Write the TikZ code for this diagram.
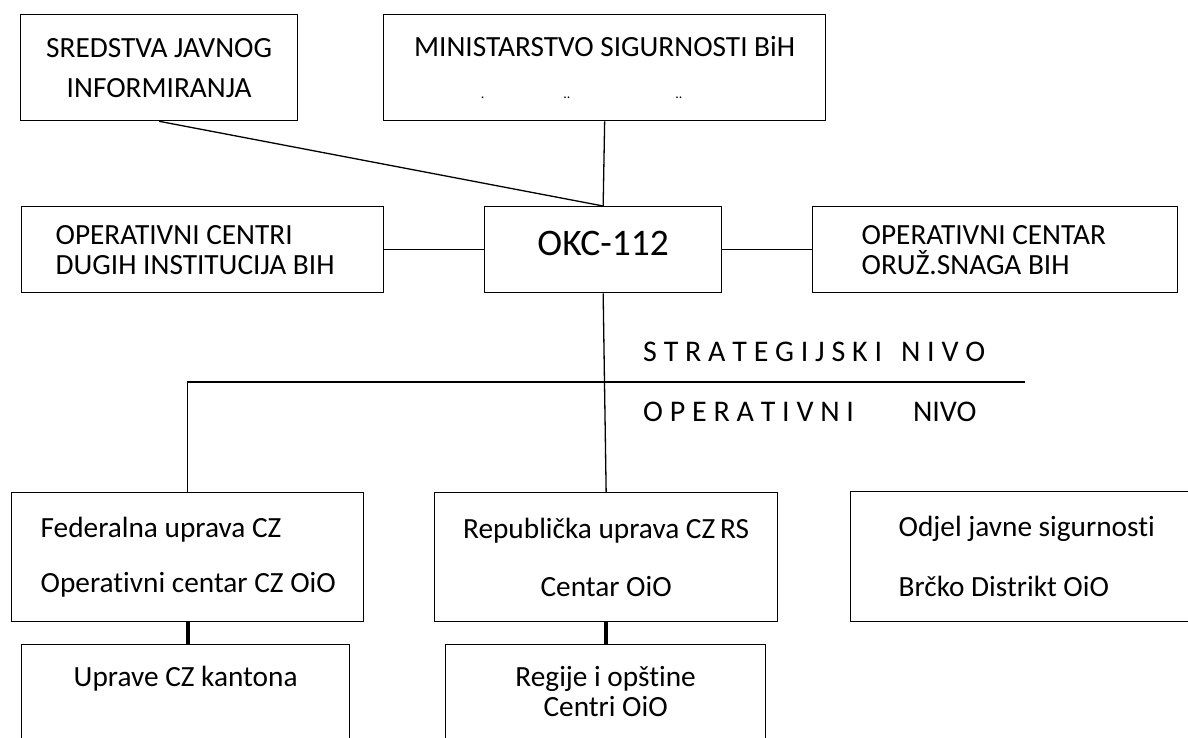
\documentclass[tikz,border=0pt]{standalone}
\usepackage{fontspec}
\setmainfont{Carlito}[Ligatures=NoCommon]

\tikzset{
  orgbox/.style={draw, line width=1.3pt, anchor=north west, inner sep=0pt,
    font=\fontsize{29.3}{30}\selectfont},
  conn/.style={line width=1.3pt},
  thickconn/.style={line width=4pt},
  nivo/.style={anchor=west, inner sep=0pt, font=\fontsize{30}{30}\selectfont},
}

\begin{document}
\begin{tikzpicture}[x=1pt,y=-1pt]
\useasboundingbox (0,0) rectangle (1188,738);
\clip (0,0) rectangle (1188,738);
% strateski nivo
\node[orgbox, minimum width=277pt, minimum height=106pt, align=center] (sredstva) at (20,14) {SREDSTVA JAVNOG\\[10pt]INFORMIRANJA};
\node[orgbox, minimum width=442pt, minimum height=106pt, align=center] (ministarstvo) at (383,14) {MINISTARSTVO SIGURNOSTI BiH\\[12.5pt]{\fontsize{14}{14}\selectfont .\hspace{79pt}..\hspace{105pt}..\hspace*{46pt}}};
\node[orgbox, minimum width=362pt, minimum height=86pt, text width=294pt, inner xsep=34pt, align=flush left] (drugi) at (21,206) {\mbox{OPERATIVNI CENTRI}\\\mbox{DUGIH INSTITUCIJA BIH}};
\node[orgbox, minimum width=237pt, minimum height=86pt, text depth=12pt, font=\fontsize{37.5}{40}\selectfont] (okc) at (484,206) {OKC-112};
\node[orgbox, minimum width=365pt, minimum height=86pt, text width=267pt, inner xsep=49pt, align=flush left] (oruzane) at (812,206) {\mbox{OPERATIVNI CENTAR}\\\mbox{ORUŽ.SNAGA BIH}};
\draw[conn] (sredstva.south) -- (okc.north);
\draw[conn] (ministarstvo.south) -- (okc.north);
\draw[conn] (drugi.east) -- (okc.west);
\draw[conn] (okc.east) -- (oruzane.west);
% granica nivoa
\node[nivo] (strat) at (643,352) {S T R A T E G I J S K I\hspace{19pt}N I V O};
\node[nivo] (oper) at (643,412) {O P E R A T I V N I\hspace{59pt}NIVO};
\coordinate (nivoend) at (1025,382);
% operativni nivo
\node[orgbox, minimum width=352pt, minimum height=129pt, text width=294pt, inner xsep=29pt, align=flush left] (federalna) at (11,492) {\mbox{Federalna uprava CZ}\\[25pt]\mbox{Operativni centar CZ OiO}};
\node[orgbox, minimum width=343pt, minimum height=129pt, align=center] (republicka) at (434,492) {Republička uprava CZ\,RS\\[28pt]Centar OiO};
\node[orgbox, minimum width=345pt, minimum height=130pt, text width=249pt, inner xsep=48pt, align=flush left] (odjel) at (850,491) {\mbox{Odjel javne sigurnosti}\\[30pt]\mbox{Brčko Distrikt OiO}};
\node[orgbox, minimum width=328pt, text height=41.5pt, text depth=90pt, align=center] (uprave) at (21,644) {Uprave CZ kantona};
\node[orgbox, minimum width=320pt, text height=71.5pt, text depth=60pt, align=center] (regije) at (445,644) {Regije i opštine\\Centri OiO};
\draw[conn] (okc.south) -- (republicka.north);
\draw[conn] (nivoend) -- (federalna.north |- nivoend) -- (federalna.north);
\draw[thickconn] (federalna.south) -- (federalna.south |- uprave.north);
\draw[thickconn] (republicka.south) -- (republicka.south |- regije.north);
\end{tikzpicture}
\end{document}
